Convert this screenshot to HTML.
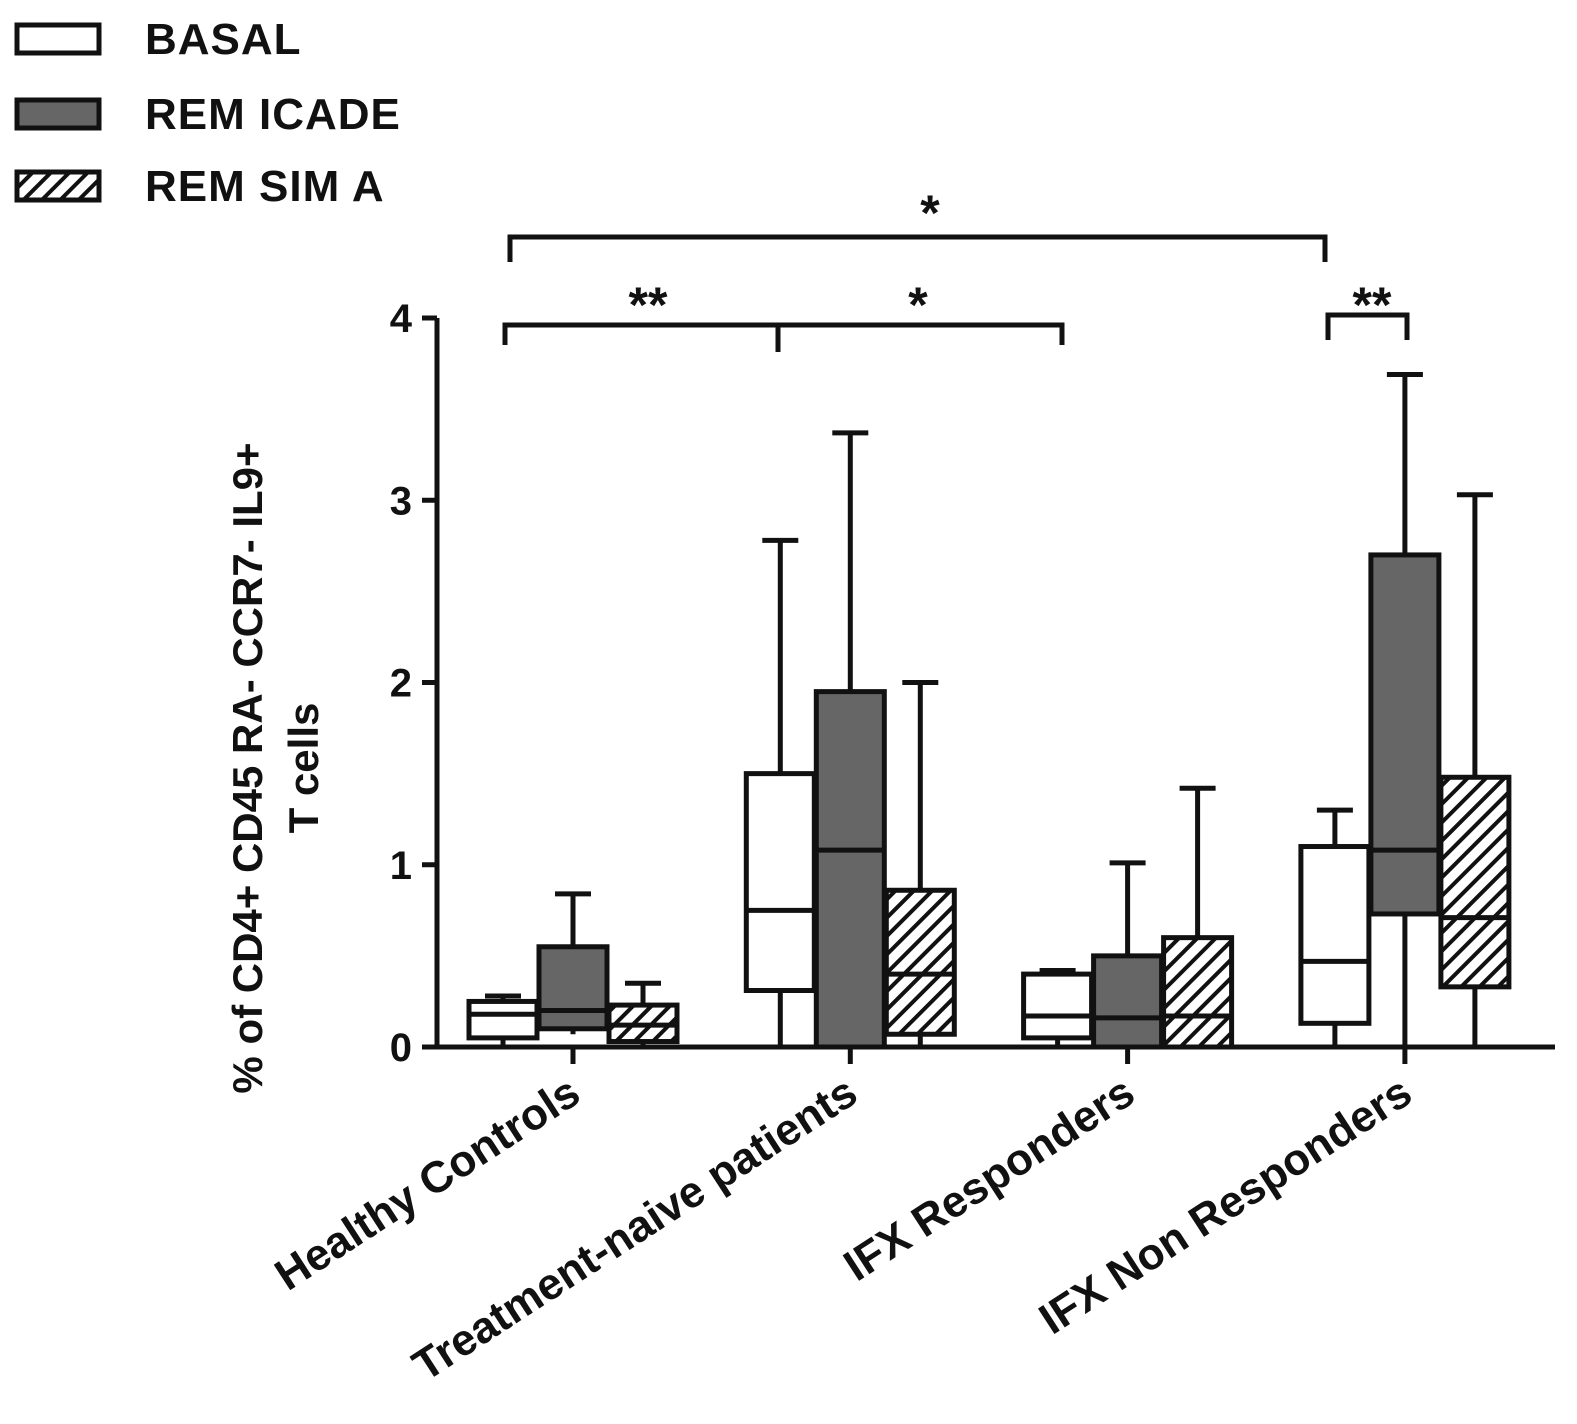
<!DOCTYPE html>
<html><head><meta charset="utf-8"><style>
body{margin:0;background:#fff}
text{font-family:"Liberation Sans",Arial,sans-serif;font-weight:bold;fill:#111}
</style></head><body>
<svg width="1577" height="1419" viewBox="0 0 1577 1419">
<defs><pattern id="hatch" patternUnits="userSpaceOnUse" width="13" height="13" patternTransform="rotate(45)">
<rect width="13" height="13" fill="#fff"/><rect x="0" y="0" width="4" height="13" fill="#111"/></pattern></defs>
<g>
<rect x="17" y="25" width="82" height="28" fill="#fff" stroke="#111" stroke-width="5"/>
<text x="145" y="54" font-size="44" letter-spacing="1">BASAL</text>
<rect x="17" y="100" width="82" height="28" fill="#666" stroke="#111" stroke-width="5"/>
<text x="145" y="129" font-size="44" letter-spacing="1">REM ICADE</text>
<rect x="17" y="172" width="82" height="28" fill="url(#hatch)" stroke="#111" stroke-width="5"/>
<text x="145" y="201" font-size="44" letter-spacing="1">REM SIM A</text>
</g>
<g id="plot"></g>
<text transform="translate(262,768) rotate(-90)" text-anchor="middle" font-size="42">% of CD4+ CD45 RA- CCR7- IL9+</text>
<text transform="translate(318,768) rotate(-90)" text-anchor="middle" font-size="42">T cells</text>
<g stroke="#111" stroke-width="5" fill="none">
<path d="M510,262 V237 H1325 V262"/>
<path d="M505,345 V325 H1062 V345 M778,325 V352"/>
<path d="M1328,340 V315 H1407 V340"/>
</g>
<text x="930" y="230" font-size="50" text-anchor="middle">*</text>
<text x="648" y="322" font-size="50" text-anchor="middle">**</text>
<text x="918" y="322" font-size="50" text-anchor="middle">*</text>
<text x="1372" y="322" font-size="50" text-anchor="middle">**</text>
</svg>
<script>
const categories=["Healthy Controls","Treatment-naive patients","IFX Responders","IFX Non Responders"];
const series=["BASAL","REMICADE","REMSIMA"];
// [min,q1,median,q3,max] per category
const basal=[[0,0.05,0.18,0.25,0.28],[0,0.31,0.75,1.5,2.78],[0,0.05,0.17,0.4,0.42],[0,0.13,0.47,1.1,1.3]];
const remicade=[[0.07,0.1,0.2,0.55,0.84],[0,0,1.08,1.95,3.37],[0,0,0.16,0.5,1.01],[0,0.73,1.08,2.7,3.69]];
const remsima=[[0,0.03,0.12,0.23,0.35],[0,0.07,0.4,0.86,2.0],[0,0,0.17,0.6,1.42],[0,0.33,0.71,1.48,3.03]];
const yTicks=[0,1,2,3,4];
const NS="http://www.w3.org/2000/svg";
const g=document.getElementById('plot');
const y=v=>1047-182.25*v;
const xc=i=>573+277.3*i;
function mk(t,a){const e=document.createElementNS(NS,t);for(const k in a)e.setAttribute(k,a[k]);g.appendChild(e);return e;}
let ax=mk('path',{d:`M437,${y(4)} V1047 H1555`,stroke:'#111','stroke-width':5,fill:'none'});


yTicks.forEach(t=>{
 let l=mk('line',{x1:422,x2:437,y1:y(t),y2:y(t),stroke:'#111','stroke-width':5});
 
 
 let tx=mk('text',{x:412,y:y(t)+14,'font-size':40,'text-anchor':'end'});tx.textContent=t;
 
 
});
categories.forEach((c,i)=>{
 let l=mk('line',{x1:xc(i),x2:xc(i),y1:1047,y2:1064,stroke:'#111','stroke-width':5});
 
 
 let tx=mk('text',{transform:`translate(${xc(i)+10},1100) rotate(-33)`,'font-size':44,'text-anchor':'end'});tx.textContent=c;
 
 
});
const fills=['#fff','#666','url(#hatch)'];
[basal,remicade,remsima].forEach((s,si)=>{
 s.forEach((d,i)=>{
  const cx=xc(i)+(si-1)*70,w=68;
  let wl=mk('path',{d:`M${cx},${y(d[0])} V${y(d[1])} M${cx},${y(d[3])} V${y(d[4])} M${cx-18},${y(d[4])} H${cx+18}`,stroke:'#111','stroke-width':5,fill:'none'});
  
  
  let b=mk('rect',{x:cx-w/2,y:y(d[3]),width:w,height:Math.max(y(d[1])-y(d[3]),0),fill:fills[si],stroke:'#111','stroke-width':5});
  
  
  let m=mk('line',{x1:cx-w/2,x2:cx+w/2,y1:y(d[2]),y2:y(d[2]),stroke:'#111','stroke-width':5});
  
  
 });
});
</script>
</body></html>
